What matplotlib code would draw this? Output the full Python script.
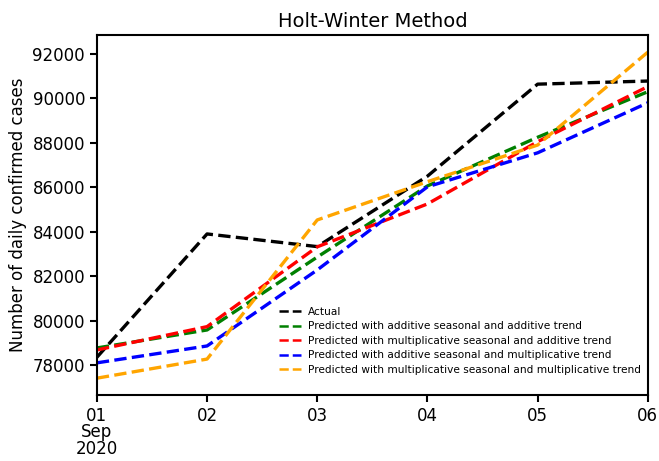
import numpy as np
import pandas as pd
import matplotlib
matplotlib.use('Agg')
from matplotlib import pyplot as plt

dates = pd.date_range('2020-09-01', periods=6, freq='D')
actual = [78350, 83900, 83330, 86500, 90640, 90780]
add_add = [78770, 79580, 82860, 86060, 88250, 90300]
mul_add = [78680, 79730, 83320, 85250, 88050, 90530]
add_mul = [78100, 78860, 82280, 86020, 87550, 89800]
mul_mul = [77410, 78270, 84530, 86250, 87900, 92080]
tick_labels = ['01\nSep\n2020', '02', '03', '04', '05', '06']

fig = plt.figure(figsize=(6.59, 4.61), dpi=100)
ax = fig.add_axes([0.147, 0.143, 0.836, 0.781])

lw = 2.4
ax.plot(dates, actual, '--', color='black', lw=lw, label='Actual')
ax.plot(dates, add_add, '--', color='green', lw=lw,
        label='Predicted with additive seasonal and additive trend')
ax.plot(dates, mul_add, '--', color='red', lw=lw,
        label='Predicted with multiplicative seasonal and additive trend')
ax.plot(dates, add_mul, '--', color='blue', lw=lw,
        label='Predicted with additive seasonal and multiplicative trend')
ax.plot(dates, mul_mul, '--', color='orange', lw=lw,
        label='Predicted with multiplicative seasonal and multiplicative trend')

ax.set_xlim(dates[0], dates[-1])
ax.set_ylim(76650, 92850)
ax.set_xticks(dates)
ax.set_xticklabels(tick_labels, linespacing=0.9)
ax.set_yticks(np.arange(78000, 92001, 2000))
ax.tick_params(labelsize=12, width=1.5, length=5)
for s in ax.spines.values():
    s.set_linewidth(1.5)

ax.set_title('Holt-Winter Method', fontsize=14)
ax.set_ylabel('Number of daily confirmed cases', fontsize=12)
leg = ax.legend(loc='lower right', bbox_to_anchor=(1.005, 0.03), frameon=False,
                fontsize=7.6, handlelength=2.1, handletextpad=0.65,
                labelspacing=0.42)
for h in leg.get_lines():
    h.set_linewidth(1.8)

fig.savefig('out.png', dpi=100)
